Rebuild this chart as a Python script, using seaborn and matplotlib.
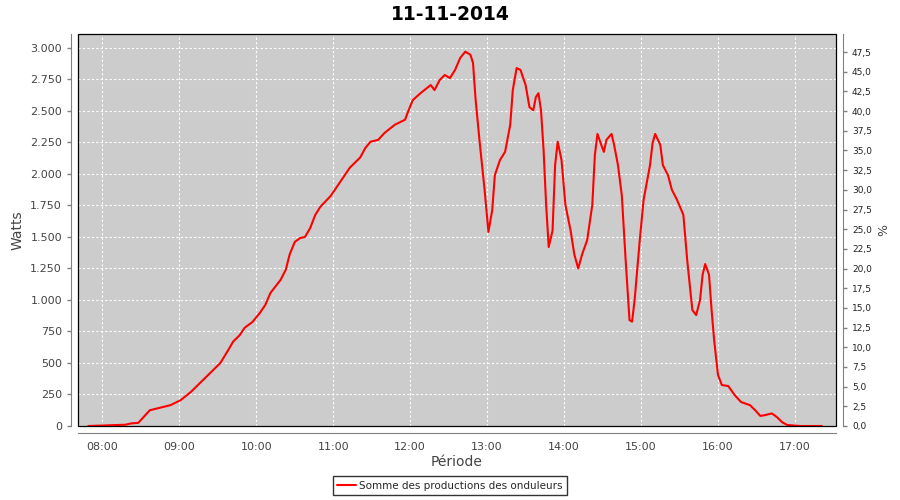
import pandas as pd
import matplotlib
matplotlib.use("Agg")
import matplotlib.pyplot as plt
import matplotlib.dates as mdates
import matplotlib.ticker as mticker
from matplotlib.patches import Rectangle
import seaborn as sns

# donnees
heures = ["07:49", "08:18", "08:22", "08:28", "08:33", "08:37", "08:45", "08:53",
          "09:01", "09:09", "09:16", "09:24", "09:32", "09:38", "09:42", "09:47",
          "09:51", "09:57", "10:03", "10:07", "10:11", "10:19", "10:23", "10:26",
          "10:30", "10:34", "10:38", "10:42", "10:46", "10:50", "10:58", "11:05",
          "11:09", "11:13", "11:21", "11:25", "11:29", "11:35", "11:40", "11:48",
          "11:56", "11:58", "12:02", "12:08", "12:16", "12:19", "12:23", "12:27",
          "12:31", "12:35", "12:39", "12:43", "12:47", "12:49", "12:51", "12:54",
          "12:58", "13:01", "13:04", "13:06", "13:10", "13:14", "13:18", "13:20",
          "13:23", "13:26", "13:30", "13:33", "13:36", "13:38", "13:40", "13:42",
          "13:44", "13:46", "13:48", "13:51", "13:53", "13:55", "13:58", "14:01",
          "14:05", "14:08", "14:11", "14:14", "14:18", "14:22", "14:24", "14:26",
          "14:29", "14:31", "14:33", "14:37", "14:39", "14:42", "14:45", "14:48",
          "14:51", "14:53", "14:55", "14:59", "15:02", "15:07", "15:09", "15:11",
          "15:15", "15:17", "15:21", "15:24", "15:28", "15:33", "15:36", "15:40",
          "15:43", "15:46", "15:48", "15:50", "15:53", "15:55", "15:57", "16:00",
          "16:03", "16:08", "16:13", "16:18", "16:25", "16:29", "16:33", "16:36",
          "16:42", "16:46", "16:50", "16:54", "17:04", "17:21"]
watts = [0, 10, 20, 25, 80, 125, 145, 165,
         205, 270, 340, 420, 500, 600, 670, 720,
         780, 825, 900, 960, 1055, 1160, 1240, 1360,
         1460, 1490, 1500, 1570, 1675, 1740, 1825, 1930,
         1990, 2050, 2130, 2205, 2255, 2270, 2325, 2390,
         2430, 2485, 2585, 2640, 2705, 2665, 2745, 2785,
         2760, 2825, 2920, 2970, 2945, 2880, 2590, 2270,
         1875, 1540, 1715, 1990, 2110, 2175, 2390, 2665,
         2840, 2825, 2705, 2530, 2505, 2610, 2640, 2505,
         2190, 1755, 1420, 1550, 2070, 2255, 2110, 1755,
         1555, 1360, 1250, 1360, 1475, 1755, 2150, 2317,
         2230, 2175, 2270, 2317, 2230, 2070, 1830, 1315,
         840, 828, 1000, 1475, 1795, 2070, 2245, 2317,
         2230, 2070, 1990, 1875, 1795, 1675, 1315, 920,
         880, 1000, 1200, 1285, 1200, 920, 680, 405,
         325, 317, 245, 190, 165, 125, 80, 85,
         100, 70, 30, 8, 0, 0]

df = pd.DataFrame({"Heure": pd.to_datetime("2014-11-11 " + pd.Series(heures)),
                   "Watts": watts})

sns.set_style("white")
plt.rcParams["font.family"] = ["DejaVu Sans"]

fig = plt.figure(figsize=(9, 5), dpi=100)
ax = fig.add_axes([78 / 900, 74 / 500, 758 / 900, 392 / 500])
ax.set_facecolor("#cccccc")

sns.lineplot(data=df, x="Heure", y="Watts", ax=ax, color="red", linewidth=1.5,
             label="Somme des productions des onduleurs", legend=False)

ax.set_xlim(pd.Timestamp("2014-11-11 07:41"), pd.Timestamp("2014-11-11 17:32"))
ax.set_ylim(0, 3110)
ax.xaxis.set_major_locator(mdates.HourLocator())
ax.xaxis.set_major_formatter(mdates.DateFormatter("%H:%M"))
ax.yaxis.set_major_locator(mticker.MultipleLocator(250))
ax.yaxis.set_major_formatter(mticker.FuncFormatter(lambda v, p: f"{int(v):,}".replace(",", ".")))

ax.grid(True, color="white", linestyle=(0, (2, 2)), linewidth=0.8)
ax.set_axisbelow(True)

gris = "#808080"
for s in ["left", "bottom"]:
    ax.spines[s].set_position(("outward", 5))
    ax.spines[s].set_color(gris)
for s in ["top", "right"]:
    ax.spines[s].set_visible(False)
ax.tick_params(axis="both", colors=gris, labelcolor="#444444", labelsize=8,
               length=3, width=1, direction="out")
ax.set_xlabel("Période", fontsize=10, color="#444444", labelpad=2)
ax.set_ylabel("Watts", fontsize=10, color="#444444")

# axe de droite en pourcentage
ax2 = ax.twinx()
ax2.set_ylim(0, 49.8)
ax2.yaxis.set_major_locator(mticker.MultipleLocator(2.5))
ax2.yaxis.set_major_formatter(mticker.FuncFormatter(lambda v, p: f"{v:.1f}".replace(".", ",")))
for s in ["left", "bottom", "top"]:
    ax2.spines[s].set_visible(False)
ax2.spines["right"].set_position(("outward", 5))
ax2.spines["right"].set_color(gris)
ax2.tick_params(axis="y", colors=gris, labelcolor="#222222", labelsize=6.5,
                length=3, width=1)
ax2.set_ylabel("%", fontsize=9, color="#444444")

# contour noir de la zone de trace
ax.add_patch(Rectangle((0, 0), 1, 1, transform=ax.transAxes, fill=False,
                       edgecolor="black", linewidth=0.9, clip_on=False, zorder=5))

fig.suptitle("11-11-2014", x=0.5, y=0.99, fontsize=13.5, fontweight="bold",
             color="black")

handles, labels = ax.get_legend_handles_labels()
leg = fig.legend(handles, labels, loc="lower center", bbox_to_anchor=(0.5, 0.0),
                 fontsize=7.5, frameon=True, fancybox=False, handlelength=1.8,
                 borderpad=0.4, handletextpad=0.3)
leg.get_frame().set_edgecolor("black")
leg.get_frame().set_linewidth(1)

fig.savefig("out.png", dpi=100)
